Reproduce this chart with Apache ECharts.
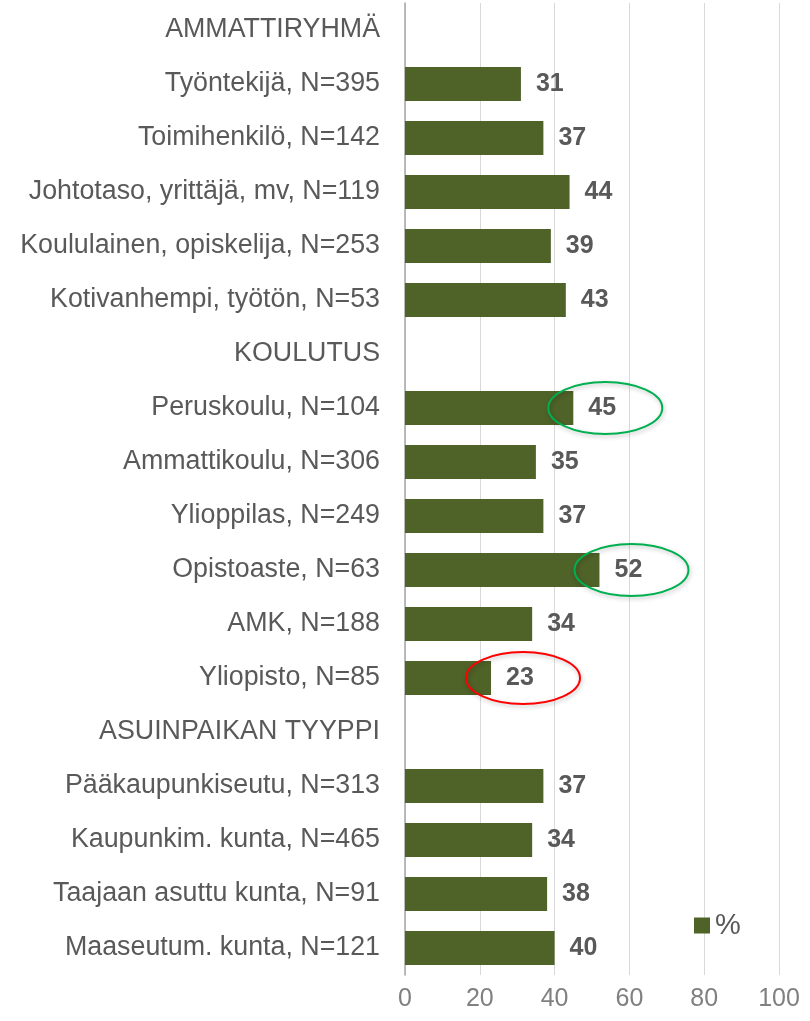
<!DOCTYPE html>
<html>
<head>
<meta charset="utf-8">
<script src="https://cdn.jsdelivr.net/npm/echarts@6/dist/echarts.min.js"></script>
<style>
  * { margin: 0; padding: 0; }
  html, body { width: 810px; height: 1021px; background: #fff; }
  #main { width: 810px; height: 1021px; }
</style>
</head>
<body>
<div id="main"></div>
<script>
// rivit ylhäältä alas, otsikkoriveillä ei arvoa
var categories = [
  'AMMATTIRYHMÄ',
  'Työntekijä, N=395',
  'Toimihenkilö, N=142',
  'Johtotaso, yrittäjä, mv, N=119',
  'Koululainen, opiskelija, N=253',
  'Kotivanhempi, työtön, N=53',
  'KOULUTUS',
  'Peruskoulu, N=104',
  'Ammattikoulu, N=306',
  'Ylioppilas, N=249',
  'Opistoaste, N=63',
  'AMK, N=188',
  'Yliopisto, N=85',
  'ASUINPAIKAN TYYPPI',
  'Pääkaupunkiseutu, N=313',
  'Kaupunkim. kunta, N=465',
  'Taajaan asuttu kunta, N=91',
  'Maaseutum. kunta, N=121'
];
var values = [null, 31, 37, 44, 39, 43, null, 45, 35, 37, 52, 34, 23, null, 37, 34, 38, 40];
var xTicks = [0, 20, 40, 60, 80, 100];
// ympyröidyt arvot: rivi ja väri
var highlightRows = ['Peruskoulu, N=104', 'Opistoaste, N=63', 'Yliopisto, N=85'];
var highlightColors = ['#00B050', '#00B050', '#FF0000'];

var chart = echarts.init(document.getElementById('main'));

var ringData = highlightRows.map(function (c, i) {
  return [values[categories.indexOf(c)], c, i];
});

var option = {
  animation: false,
  textStyle: { fontFamily: 'Liberation Sans' },
  legend: {
    data: ['%'],
    icon: 'rect',
    left: 689,
    top: 906,
    itemWidth: 16,
    itemHeight: 16,
    itemGap: 6,
    textStyle: { fontSize: 29, color: '#595959' }
  },
  grid: { left: 405, right: 31, top: 3, bottom: 46 },
  xAxis: {
    type: 'value',
    min: xTicks[0],
    max: xTicks[xTicks.length - 1],
    interval: 20,
    axisLine: { show: false },
    axisTick: { show: false },
    axisLabel: { fontSize: 25, color: '#808080', margin: 12 },
    splitLine: { lineStyle: { color: '#D9D9D9', width: 1 } }
  },
  yAxis: {
    type: 'category',
    inverse: true,
    data: categories,
    axisLine: { show: true, lineStyle: { color: '#A6A6A6', width: 1.5 } },
    axisTick: { show: false },
    axisLabel: { fontSize: 26.8, color: '#595959', margin: 25 }
  },
  series: [
    {
      name: '%',
      type: 'bar',
      data: values,
      barCategoryGap: '37%',
      itemStyle: { color: '#4F6228' },
      label: {
        show: true,
        position: 'right',
        distance: 15,
        fontSize: 25,
        fontWeight: 'bold',
        color: '#595959'
      }
    },
    {
      type: 'custom',
      silent: true,
      z: 5,
      data: ringData,
      encode: { x: 0, y: 1 },
      renderItem: function (params, api) {
        var p = api.coord([api.value(0), api.value(1)]);
        var col = highlightColors[api.value(2)];
        return {
          type: 'ellipse',
          shape: { cx: p[0] + 32, cy: p[1], rx: 57, ry: 26 },
          style: {
            fill: 'none',
            stroke: col,
            lineWidth: 2,
            shadowBlur: 4,
            shadowColor: 'rgba(0,0,0,0.25)',
            shadowOffsetX: 1,
            shadowOffsetY: 2
          }
        };
      }
    }
  ]
};
chart.setOption(option);
</script>
</body>
</html>
